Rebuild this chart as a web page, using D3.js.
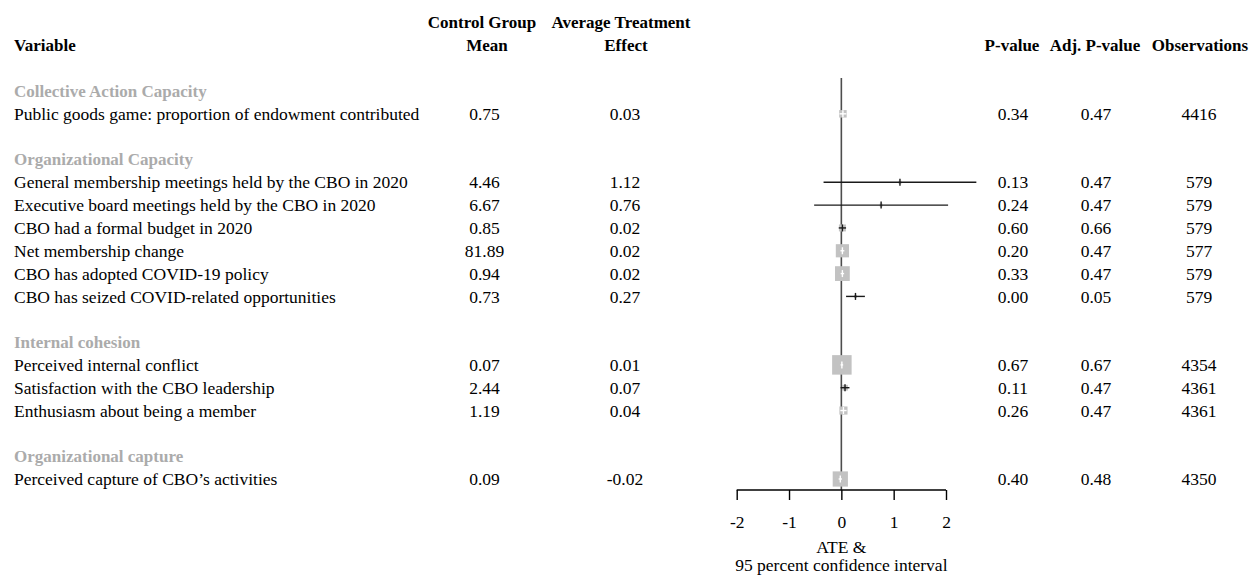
<!DOCTYPE html>
<html>
<head>
<meta charset="utf-8">
<script src="https://cdn.jsdelivr.net/npm/d3@7"></script>
<style>
  html, body { margin: 0; padding: 0; background: #fff; }
  svg { display: block; }
  text { font-family: "Liberation Serif", "Times New Roman", serif; font-size: 17.5px; fill: #000; }
</style>
</head>
<body>
<svg id="chart" width="1250" height="575"></svg>
<script>
// ---------------- DATA ----------------
const groups = [
  "Collective Action Capacity",
  "Organizational Capacity",
  "Internal cohesion",
  "Organizational capture"
];
const variables = [
  "Public goods game: proportion of endowment contributed",
  "General membership meetings held by the CBO in 2020",
  "Executive board meetings held by the CBO in 2020",
  "CBO had a formal budget in 2020",
  "Net membership change",
  "CBO has adopted COVID-19 policy",
  "CBO has seized COVID-related opportunities",
  "Perceived internal conflict",
  "Satisfaction with the CBO leadership",
  "Enthusiasm about being a member",
  "Perceived capture of CBO\u2019s activities"
];
const variableGroup = [0, 1, 1, 1, 1, 1, 1, 2, 2, 2, 3];
const controlMeans = [0.75, 4.46, 6.67, 0.85, 81.89, 0.94, 0.73, 0.07, 2.44, 1.19, 0.09];
const ate = [0.03, 1.12, 0.76, 0.02, 0.02, 0.02, 0.27, 0.01, 0.07, 0.04, -0.02];
const ciLower = [-0.035, -0.34, -0.52, -0.05, -0.017, -0.013, 0.09, -0.015, -0.015, -0.02, -0.052];
const ciUpper = [0.095, 2.58, 2.04, 0.09, 0.057, 0.053, 0.45, 0.035, 0.155, 0.10, 0.012];
const pValues = [0.34, 0.13, 0.24, 0.60, 0.20, 0.33, 0.00, 0.67, 0.11, 0.26, 0.40];
const adjPValues = [0.47, 0.47, 0.47, 0.66, 0.47, 0.47, 0.05, 0.67, 0.47, 0.47, 0.48];
const observations = [4416, 579, 579, 579, 577, 579, 579, 4354, 4361, 4361, 4350];
const axisTicks = [-2, -1, 0, 1, 2];

// ---------------- LAYOUT ----------------
const svg = d3.select("#chart");
const f2 = v => d3.format(".2f")(v).replace("\u2212", "-");

// Build the row list: group header, its variables, blank spacer
const rows = [];
groups.forEach((g, gi) => {
  rows.push({ type: "group", label: g });
  variables.forEach((v, i) => {
    if (variableGroup[i] === gi) rows.push({ type: "var", idx: i });
  });
  if (gi < groups.length - 1) rows.push({ type: "blank" });
});

const y = d3.scaleLinear().domain([0, rows.length - 1]).range([91, 479]);
const x = d3.scaleLinear().domain([-2, 2]).range([736.7, 946]);

const col = { variable: 14, mean: 484.5, ate: 625, p: 1013, adj: 1096, obs: 1199 };

// Headers
const header = svg.append("g");
function hText(tx, ty, s, anchor) {
  header.append("text").attr("x", tx).attr("y", ty).attr("dy", "0.35em")
    .attr("text-anchor", anchor).style("font-weight", "bold").style("font-size", "17px").text(s);
}
hText(482, 22, "Control Group", "middle");
hText(621, 22, "Average Treatment", "middle");
hText(col.variable, 45, "Variable", "start");
hText(487, 45, "Mean", "middle");
hText(626, 45, "Effect", "middle");
hText(1012, 45, "P-value", "middle");
hText(1095, 45, "Adj. P-value", "middle");
hText(1200, 45, "Observations", "middle");

// Table rows
const body = svg.append("g");
rows.forEach((r, ri) => {
  const ty = y(ri);
  if (r.type === "group") {
    body.append("text").attr("x", col.variable).attr("y", ty).attr("dy", "0.35em")
      .style("fill", "#ababab").style("font-weight", "bold").style("font-size", "17px").text(r.label);
  } else if (r.type === "var") {
    const i = r.idx;
    const cells = [
      [col.variable, variables[i], "start"],
      [col.mean, f2(controlMeans[i]), "middle"],
      [col.ate, f2(ate[i]), "middle"],
      [col.p, f2(pValues[i]), "middle"],
      [col.adj, f2(adjPValues[i]), "middle"],
      [col.obs, String(observations[i]), "middle"]
    ];
    cells.forEach(([cx, s, a]) => {
      body.append("text").attr("x", cx).attr("y", ty).attr("dy", "0.35em")
        .attr("text-anchor", a).text(s);
    });
  }
});

// ---------------- FOREST PLOT ----------------
const axisY = 490;
const plot = svg.append("g");

// zero line
plot.append("line")
  .attr("x1", x(0)).attr("x2", x(0))
  .attr("y1", 78).attr("y2", axisY)
  .attr("stroke", "#4d4d4d").attr("stroke-width", 1.6);

// box sizes inversely proportional to CI width (forestplot style)
const info = ciUpper.map((u, i) => 1 / (u - ciLower[i]));
const maxInfo = d3.max(info);
const boxMax = 19.5;

rows.forEach((r, ri) => {
  if (r.type !== "var") return;
  const i = r.idx;
  const cy = y(ri);
  const s = Math.max(boxMax * info[i] / maxInfo, 3);
  const x0 = x(ciLower[i]), x1 = x(ciUpper[i]), cx = x(ate[i]);
  const inside = (x1 - x0) < s;
  const lineColor = inside ? "#ffffff" : "#1a1a1a";
  const g = plot.append("g");
  g.append("rect").attr("x", cx - s / 2).attr("y", cy - s / 2)
    .attr("width", s).attr("height", s).attr("fill", "#c2c2c2");
  g.append("line").attr("x1", x0).attr("x2", x1).attr("y1", cy).attr("y2", cy)
    .attr("stroke", lineColor).attr("stroke-width", 1.4);
  // estimate tick
  g.append("line").attr("x1", cx).attr("x2", cx).attr("y1", cy - 3.5).attr("y2", cy + 3.5)
    .attr("stroke", lineColor).attr("stroke-width", 1.4);
});

// x axis
const axis = d3.axisBottom(x).tickValues(axisTicks).tickSize(10)
  .tickFormat(d => String(d));
const ag = svg.append("g").attr("transform", `translate(0,${axisY})`).call(axis);
ag.attr("font-family", null).attr("font-size", null);
ag.select(".domain").attr("stroke", "#000").attr("stroke-width", 1.4)
  .attr("d", `M${x(-2)},0H${x(2)}`);
ag.selectAll(".tick line").attr("stroke", "#000").attr("stroke-width", 1.4);
ag.selectAll(".tick text")
  .style("font-family", "'Liberation Serif', serif")
  .style("font-size", "17.5px")
  .attr("fill", "#000").attr("y", 32).attr("dy", "0.35em");

svg.append("text").attr("x", x(0)).attr("y", 547).attr("dy", "0.35em")
  .attr("text-anchor", "middle").text("ATE &");
svg.append("text").attr("x", x(0)).attr("y", 565).attr("dy", "0.35em")
  .attr("text-anchor", "middle").text("95 percent confidence interval");
</script>
</body>
</html>
